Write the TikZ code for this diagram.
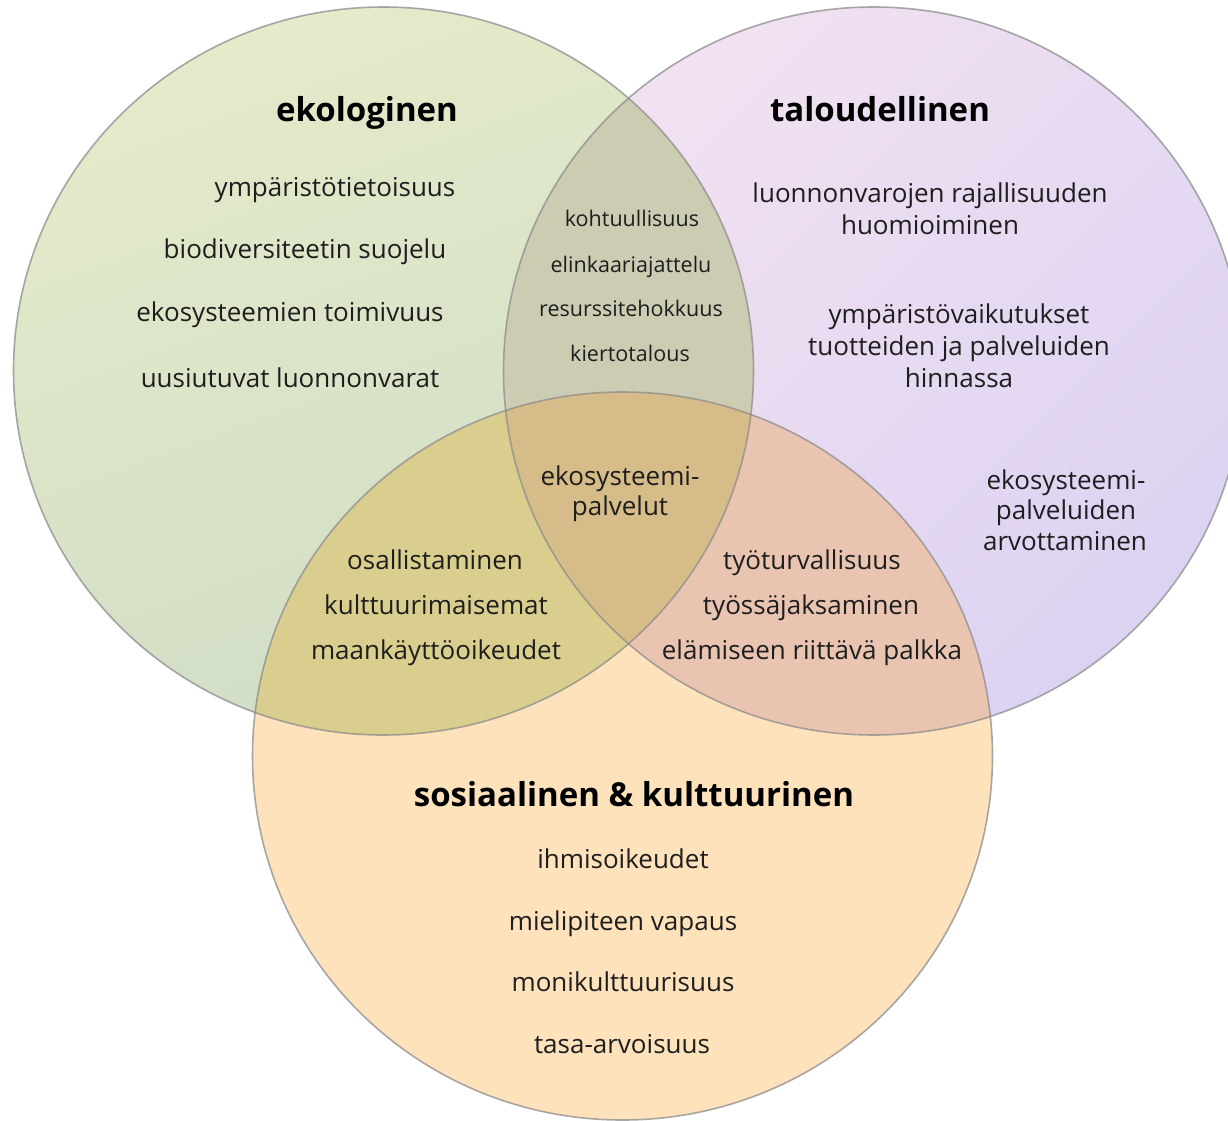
\documentclass[tikz,border=0pt]{standalone}
\usepackage{fontspec}
\setmainfont{Open Sans}
\definecolor{gTop}{HTML}{E4EBCA}
\definecolor{gBot}{HTML}{D0DCC6}
\definecolor{pTop}{HTML}{F2E2F1}
\definecolor{pBot}{HTML}{DCD2F2}
\definecolor{oFill}{HTML}{FDE2BC}
\definecolor{gpFill}{HTML}{CBCCB2}
\definecolor{goFill}{HTML}{D9CE8E}
\definecolor{poFill}{HTML}{E9C5B1}
\definecolor{gpoFill}{HTML}{D6BC88}
\definecolor{txt}{HTML}{1E1E1E}
\definecolor{edge}{HTML}{8C8C8C}
\def\circG{(383.5,371) ellipse [x radius=370pt, y radius=364pt]}
\def\circP{(873.5,371) ellipse [x radius=370pt, y radius=364pt]}
\def\circO{(622.5,756) ellipse [x radius=370pt, y radius=364pt]}
\begin{document}
\begin{tikzpicture}[x=1pt,y=-1pt,
  ttl/.style={anchor=base, inner sep=0pt, text=black, font=\fontsize{33}{40}\selectfont\bfseries},
  itm/.style={anchor=base, inner sep=0pt, text=txt, font=\fontsize{26}{32}\selectfont},
  sml/.style={anchor=base, inner sep=0pt, text=txt, font=\fontsize{21.5}{26}\selectfont},
  outl/.style={draw=edge, draw opacity=0.75, line width=1.6pt}]
\useasboundingbox (0,0) rectangle (1228,1120);
\fill[white] (0,0) rectangle (1228,1120);
% base circles
\shade[top color=gTop, bottom color=gBot, shading angle=20] \circG;
\shade[top color=pTop, bottom color=pBot, shading angle=45] \circP;
\fill[oFill] \circO;
% pairwise overlaps
\begin{scope}
  \clip \circG;
  \fill[gpFill] \circP;
  \fill[goFill] \circO;
\end{scope}
\begin{scope}
  \clip \circP;
  \fill[poFill] \circO;
\end{scope}
\begin{scope}
  \clip \circG;
  \clip \circP;
  \fill[gpoFill] \circO;
\end{scope}
% outlines
\draw[outl] \circG;
\draw[outl] \circP;
\draw[outl] \circO;
% titles
\node[ttl] (tG) at (367,121) {ekologinen};
\node[ttl] (tP) at (880,121) {taloudellinen};
\node[ttl] (tO) at (634,806) {sosiaalinen \& kulttuurinen};
% ecological
\node[itm] (g1) at (335,196) {ympäristötietoisuus};
\node[itm] (g2) at (305,258) {biodiversiteetin suojelu};
\node[itm] (g3) at (290,321) {ekosysteemien toimivuus};
\node[itm] (g4) at (290,387) {uusiutuvat luonnonvarat};
% economic
\node[itm] (p1) at (930,202) {luonnonvarojen rajallisuuden};
\node[itm] (p2) at (930,234) {huomioiminen};
\node[itm] (p3) at (959,323) {ympäristövaikutukset};
\node[itm] (p4) at (959,355) {tuotteiden ja palveluiden};
\node[itm] (p5) at (959,387) {hinnassa};
\node[itm] (p6) at (1066,489) {ekosysteemi-};
\node[itm] (p7) at (1066,519) {palveluiden};
\node[itm] (p8) at (1065,550) {arvottaminen};
% eco & econ
\node[sml] (gp1) at (632,226) {kohtuullisuus};
\node[sml] (gp2) at (631,272) {elinkaariajattelu};
\node[sml] (gp3) at (631,316) {resurssitehokkuus};
\node[sml] (gp4) at (630,361) {kiertotalous};
% center
\node[itm] (c1) at (620,485) {ekosysteemi-};
\node[itm] (c2) at (620,515) {palvelut};
% eco & social
\node[itm] (go1) at (435,569) {osallistaminen};
\node[itm] (go2) at (436,614) {kulttuurimaisemat};
\node[itm] (go3) at (436,659) {maankäyttöoikeudet};
% econ & social
\node[itm] (po1) at (812,569) {työturvallisuus};
\node[itm] (po2) at (811,614) {työssäjaksaminen};
\node[itm] (po3) at (812,659) {elämiseen riittävä palkka};
% social
\node[itm] (o1) at (623,868) {ihmisoikeudet};
\node[itm] (o2) at (623,930) {mielipiteen vapaus};
\node[itm] (o3) at (623,991) {monikulttuurisuus};
\node[itm] (o4) at (622,1053) {tasa-arvoisuus};
\end{tikzpicture}
\end{document}
